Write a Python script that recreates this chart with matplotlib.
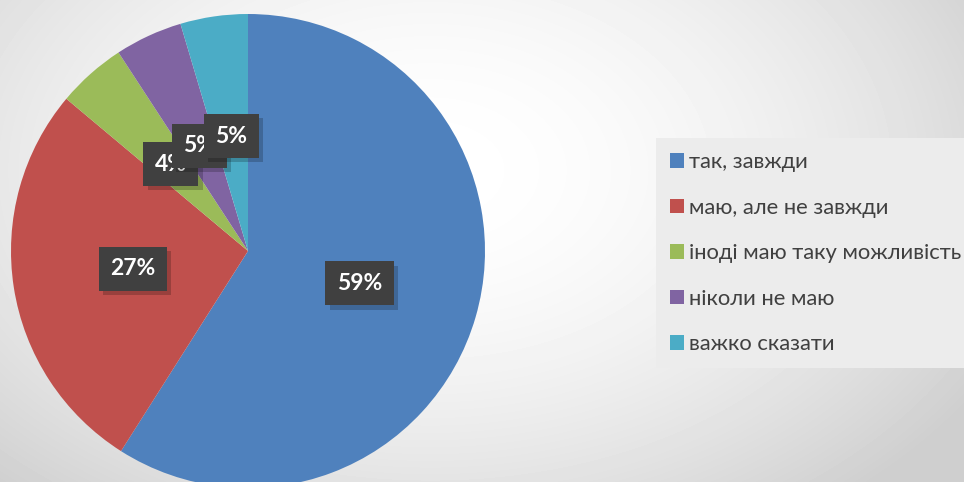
import matplotlib.pyplot as plt
import matplotlib.patches as mpatches
import matplotlib.patheffects as pe
import numpy as np

plt.rcParams['font.family'] = ['Lato', 'DejaVu Sans']

categories = ['так, завжди', 'маю, але не завжди', 'іноді маю таку можливість',
              'ніколи не маю', 'важко сказати']
values = [59.0, 27.1, 4.7, 4.6, 4.6]
pct_labels = ['59%', '27%', '4%', '5%', '5%']
colors = ['#4F81BD', '#C0504D', '#9BBB59', '#8064A2', '#4BACC6']

W, H = 964, 482
fig = plt.figure(figsize=(W / 100, H / 100), dpi=100)

# background radial gradient
bg = fig.add_axes([0, 0, 1, 1])
yy, xx = np.mgrid[0:H, 0:W]
d = np.hypot((xx - 430) / 640.0, (yy - 170) / 430.0)
shade = 1.0 - 0.19 * np.clip(d, 0, 1) ** 1.8
bg.imshow(shade, cmap='gray', vmin=0, vmax=1, extent=[0, W, 0, H], aspect='auto')
bg.set_axis_off()

ax = fig.add_axes([0, 0, 1, 1], facecolor='none')

wedges, texts = ax.pie(values, colors=colors, startangle=90, counterclock=False,
                       center=(248, 231), radius=237, labels=pct_labels,
                       labeldistance=0.49, wedgeprops=dict(linewidth=0))
ax.set_xlim(0, W)
ax.set_ylim(0, H)
ax.set_aspect('equal')
ax.set_axis_off()

order = [2, 0, 1, 3, 4]
for i, t in enumerate(texts):
    t.set_ha('center')
    t.set_va('center')
    t.set_color('white')
    t.set_fontsize(16.5)
    t.set_fontweight('bold')
    t.set_zorder(10 + order[i])
    t.set_bbox(dict(boxstyle='square,pad=0.5', facecolor='#404040', edgecolor='none'))
    t.get_bbox_patch().set_path_effects(
        [pe.SimplePatchShadow(offset=(3, -3), shadow_rgbFace='black', alpha=0.2),
         pe.Normal()])

handles = [mpatches.Patch(facecolor=c, edgecolor='none') for c in colors]
leg = ax.legend(handles, categories, loc='upper left',
                bbox_to_anchor=(656 / W, 1 - 138 / H), bbox_transform=fig.transFigure,
                fontsize=15.8, frameon=True, fancybox=False, framealpha=1,
                facecolor='#ececec', edgecolor='none', handlelength=0.64,
                handleheight=0.64, handletextpad=0.23, labelspacing=1.16,
                borderpad=0.65, borderaxespad=0)
for t in leg.get_texts():
    t.set_color('#404040')

fig.savefig('out.png', dpi=100)
